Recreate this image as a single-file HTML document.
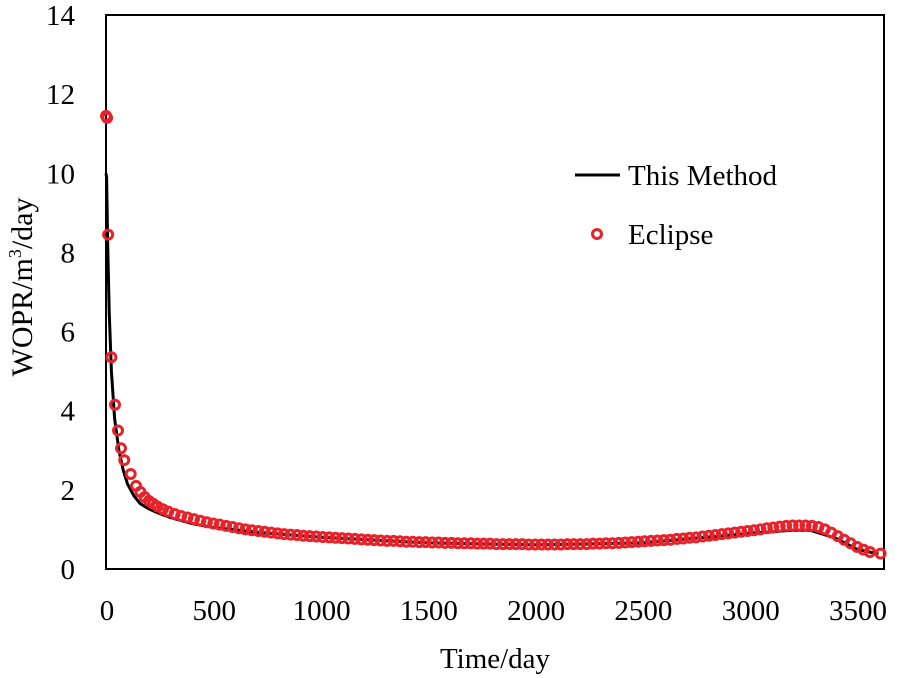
<!DOCTYPE html>
<html><head><meta charset="utf-8"><style>
body{margin:0;background:#fff}
svg{display:block;font-family:"Liberation Serif",serif}
</style></head><body>
<svg id="chart" width="900" height="678">
<rect x="106" y="15" width="778" height="554" fill="none" stroke="#000" stroke-width="2"/>
<g id="yt"></g>
<g id="xt"></g>
<path id="line" fill="none" stroke="#000" stroke-width="3"/>
<g id="pts"></g>
<text x="495" y="668" font-size="29" text-anchor="middle">Time/day</text>
<text transform="translate(32,287) rotate(-90)" font-size="30" text-anchor="middle">WOPR/m<tspan font-size="18" dy="-11">3</tspan><tspan dy="11">/day</tspan></text>
<g>
<line x1="575" y1="175" x2="620" y2="175" stroke="#000" stroke-width="3"/>
<text x="628" y="185" font-size="29">This Method</text>
<circle cx="597" cy="234" r="4.5" fill="none" stroke="#e8222a" stroke-width="3"/>
<text x="628" y="244" font-size="29">Eclipse</text>
</g>
</svg>
<script>
const yTicks=[0,2,4,6,8,10,12,14];
const xTicks=[0,500,1000,1500,2000,2500,3000,3500];
const lineT=[0,3,8,15,25,40,60,80,100,130,160,200,250,300,400,500,700,1000,1500,2000,2500,3000,3200,3280,3400,3500,3600];
const lineV=[10,9.9,8.2,6.5,5.0,3.8,3.0,2.5,2.15,1.85,1.65,1.52,1.4,1.3,1.15,1.05,0.93,0.8,0.66,0.61,0.66,0.9,0.98,0.98,0.78,0.5,0.38];
const eclT=[0,5,10,25,42,56,70,85,115,140,160,180,200,220,240,265,290,320,350,380,410,440,470,
500,530,560,590,620,650,680,710,740,770,800,830,860,890,920,950,980,
1010,1040,1070,1100,1130,1160,1190,1220,1250,1280,1310,1340,1370,1400,1430,1460,1490,
1520,1550,1580,1610,1640,1670,1700,1730,1760,1790,1820,1850,1880,1910,1940,1970,2000,
2030,2060,2090,2120,2150,2180,2210,2240,2270,2300,2330,2360,2390,2420,2450,2480,2510,
2540,2570,2600,2630,2660,2690,2720,2750,2780,2810,2840,2870,2900,2930,2960,2990,3020,
3050,3080,3110,3140,3170,3200,3230,3260,3290,3320,3350,3380,3410,3440,3470,3500,3530,3560,3610];
const eclV=[11.45,11.4,8.45,5.35,4.15,3.5,3.05,2.75,2.4,2.1,1.95,1.82,1.72,1.65,1.58,1.51,1.45,1.39,1.34,1.3,1.26,1.22,1.18,
1.15,1.12,1.09,1.06,1.03,1.0,0.98,0.96,0.94,0.92,0.9,0.88,0.87,0.86,0.84,0.83,0.82,
0.81,0.80,0.79,0.78,0.77,0.76,0.75,0.74,0.73,0.72,0.71,0.71,0.70,0.69,0.69,0.68,0.68,
0.67,0.67,0.66,0.66,0.65,0.65,0.65,0.64,0.64,0.64,0.63,0.63,0.63,0.63,0.63,0.62,0.62,
0.62,0.62,0.62,0.62,0.63,0.63,0.63,0.63,0.64,0.64,0.65,0.65,0.66,0.67,0.68,0.69,0.70,
0.71,0.72,0.73,0.74,0.76,0.77,0.79,0.80,0.82,0.84,0.86,0.88,0.90,0.92,0.94,0.96,0.98,
1.0,1.03,1.05,1.07,1.09,1.1,1.1,1.1,1.09,1.06,1.0,0.92,0.83,0.74,0.65,0.56,0.49,0.43,0.39];
const NS='http://www.w3.org/2000/svg';
const X0=106,XS=(857-106)/3500,Y0=569,YS=(569-15)/14;
const sx=v=>X0+v*XS, sy=v=>Y0-v*YS;
const yt=document.getElementById('yt'),xt=document.getElementById('xt');
yTicks.forEach(v=>{const t=document.createElementNS(NS,'text');


t.setAttribute('x',75);t.setAttribute('y',sy(v)+10);t.setAttribute('font-size','29');t.setAttribute('text-anchor','end');t.textContent=v;yt.appendChild(t);});
xTicks.forEach(v=>{const t=document.createElementNS(NS,'text');


t.setAttribute('x',sx(v)+1);t.setAttribute('y',620);t.setAttribute('font-size','29');t.setAttribute('text-anchor','middle');t.textContent=v;xt.appendChild(t);});
document.getElementById('line').setAttribute('d',lineT.map((t,i)=>(i?'L':'M')+sx(t).toFixed(1)+','+sy(lineV[i]).toFixed(1)).join(''));
const pts=document.getElementById('pts');
eclT.forEach((t,i)=>{const c=document.createElementNS(NS,'circle');


c.setAttribute('cx',sx(t));c.setAttribute('cy',sy(eclV[i]));c.setAttribute('r',4.5);c.setAttribute('fill','none');c.setAttribute('stroke','#e8222a');c.setAttribute('stroke-width',3);pts.appendChild(c);});
</script>
</body></html>
